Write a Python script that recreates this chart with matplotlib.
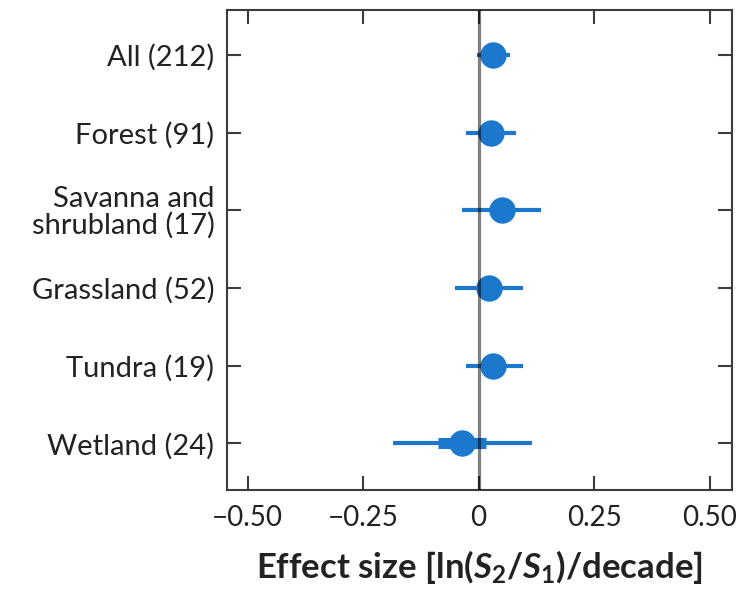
import numpy as np
import matplotlib
matplotlib.use('Agg')
import matplotlib.pyplot as plt

# Biomes and number of studies
labels = ['All (212)', 'Forest (91)', 'Savanna and\nshrubland (17)',
          'Grassland (52)', 'Tundra (19)', 'Wetland (24)']
# mean effect size and confidence intervals
effect = [0.030, 0.026, 0.050, 0.022, 0.032, -0.037]
ci_lo = [-0.004, -0.028, -0.037, -0.051, -0.028, -0.185]
ci_hi = [0.067, 0.081, 0.135, 0.097, 0.097, 0.116]
inner_lo = [0.012, 0.008, 0.030, 0.005, 0.015, -0.088]
inner_hi = [0.048, 0.044, 0.070, 0.040, 0.050, 0.015]

blue = '#1b78cc'
dark = '#3c3c3c'

plt.rcParams['font.family'] = ['Lato', 'DejaVu Sans']
plt.rcParams['mathtext.fontset'] = 'custom'
plt.rcParams['mathtext.rm'] = 'Lato'
plt.rcParams['mathtext.bf'] = 'Lato:bold'
plt.rcParams['mathtext.it'] = 'Lato:italic'
plt.rcParams['mathtext.bfit'] = 'Lato:bold:italic'

fig = plt.figure(figsize=(7.49, 5.90), dpi=100)
ax = fig.add_axes([0.303, 0.1695, 0.674, 0.8135])

y = np.arange(len(labels))
ax.hlines(y, ci_lo, ci_hi, color=blue, lw=3, zorder=2)
ax.hlines(y, inner_lo, inner_hi, color=blue, lw=8, zorder=2)
ax.plot(effect, y, 'o', color=blue, ms=19, mec='none', zorder=2)
ax.axvline(0, color='k', alpha=0.5, lw=2.3, zorder=3)

ax.set_xlim(-0.545, 0.548)
ax.set_ylim(len(labels) - 0.4, -0.58)
ax.set_yticks(y)
ax.set_yticklabels(labels, linespacing=0.95)
ax.set_xticks([-0.5, -0.25, 0, 0.25, 0.5])
ax.set_xticklabels(['\u22120.50', '\u22120.25', '0', '0.25', '0.50'])

ax.tick_params(direction='in', length=10, width=1.5, color=dark,
               labelcolor='#222222', top=True, right=True)
ax.tick_params(axis='y', labelsize=21, pad=9)
ax.tick_params(axis='x', labelsize=20, pad=11)
for s in ax.spines.values():
    s.set_color(dark)
    s.set_linewidth(1.5)

ax.set_xlabel(r'Effect size [ln($\mathbfit{S}_\mathbf{2}$/$\mathbfit{S}_\mathbf{1}$)/decade]',
              fontsize=25, fontweight='bold', color='#222222', labelpad=12)

fig.savefig('out.png', dpi=100)
